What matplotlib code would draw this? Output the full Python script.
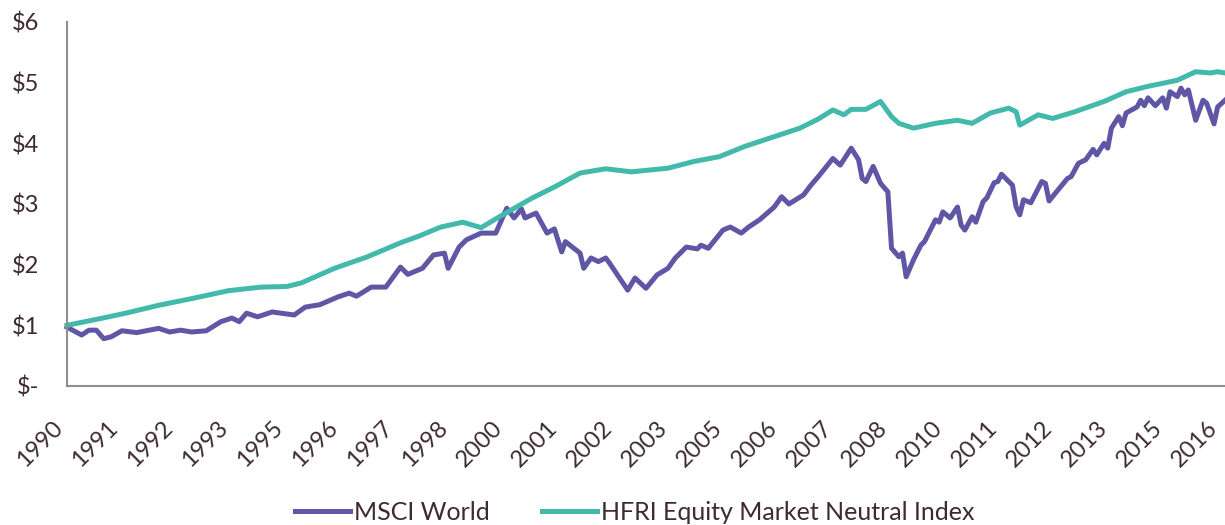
import matplotlib
matplotlib.use("Agg")
import matplotlib.pyplot as plt

# months counted from Jan 1990, values = growth of $1
msci_months = [0, 4, 6, 8, 10, 12, 15, 19, 25, 28, 31, 34, 38, 42, 45, 47, 49, 52,
               56, 62, 65, 69, 74, 77, 79, 83, 87, 91, 93, 97, 100, 103, 104, 107,
               109, 113, 117, 120, 122, 124, 125, 128, 131, 133, 135, 136, 140, 141,
               143, 145, 147, 148, 151, 153, 155, 158, 161, 164, 166, 169, 172, 173,
               175, 179, 181, 184, 186, 189, 193, 195, 197, 201, 203, 205, 209, 211,
               214, 216, 217, 218, 220, 222, 224, 225, 227, 228, 229, 231, 233, 234,
               237, 238, 239, 241, 243, 244, 245, 247, 248, 250, 251, 253, 254, 255,
               258, 259, 260, 261, 263, 266, 267, 268, 270, 273, 274, 276, 278, 280,
               281, 283, 284, 285, 287, 288, 289, 292, 293, 294, 295, 297, 299, 300,
               301, 303, 304, 305, 306, 308, 310, 311, 313, 314, 316]
msci_values = [0.97, 0.84, 0.92, 0.92, 0.78, 0.81, 0.91, 0.88, 0.95, 0.89, 0.92, 0.89,
               0.91, 1.06, 1.12, 1.06, 1.20, 1.14, 1.22, 1.17, 1.30, 1.34, 1.47, 1.53,
               1.48, 1.63, 1.63, 1.96, 1.84, 1.94, 2.16, 2.19, 1.94, 2.29, 2.41, 2.52,
               2.52, 2.93, 2.77, 2.92, 2.77, 2.85, 2.52, 2.59, 2.21, 2.38, 2.19, 1.94,
               2.11, 2.05, 2.11, 2.03, 1.76, 1.58, 1.78, 1.61, 1.83, 1.94, 2.11, 2.29,
               2.26, 2.32, 2.27, 2.57, 2.62, 2.52, 2.62, 2.74, 2.95, 3.12, 3.00, 3.15,
               3.31, 3.45, 3.75, 3.64, 3.92, 3.73, 3.42, 3.37, 3.62, 3.34, 3.20, 2.27,
               2.13, 2.19, 1.80, 2.08, 2.32, 2.38, 2.74, 2.70, 2.87, 2.77, 2.95, 2.65,
               2.57, 2.79, 2.70, 3.04, 3.10, 3.35, 3.37, 3.49, 3.31, 2.95, 2.82, 3.07,
               3.02, 3.37, 3.34, 3.05, 3.20, 3.42, 3.45, 3.67, 3.73, 3.90, 3.81, 4.00,
               3.92, 4.25, 4.44, 4.29, 4.50, 4.60, 4.71, 4.62, 4.75, 4.62, 4.75, 4.58,
               4.85, 4.77, 4.91, 4.80, 4.88, 4.38, 4.71, 4.66, 4.32, 4.60, 4.71]

hfri_months = [0, 9, 16, 25, 34, 44, 53, 60, 64, 73, 82, 91, 96, 102, 108, 113, 118,
               127, 133, 140, 147, 154, 164, 171, 178, 185, 193, 200, 205, 209, 212,
               214, 218, 222, 225, 227, 231, 237, 243, 247, 252, 257, 259, 260, 265,
               269, 275, 283, 289, 295, 303, 308, 312, 314, 316]
hfri_values = [1.00, 1.11, 1.20, 1.33, 1.44, 1.57, 1.63, 1.64, 1.70, 1.94, 2.13, 2.36,
               2.47, 2.62, 2.70, 2.61, 2.79, 3.10, 3.28, 3.51, 3.58, 3.53, 3.59, 3.70,
               3.78, 3.95, 4.11, 4.25, 4.40, 4.55, 4.47, 4.56, 4.56, 4.69, 4.44, 4.33,
               4.25, 4.33, 4.38, 4.33, 4.50, 4.58, 4.52, 4.30, 4.47, 4.41, 4.52, 4.69,
               4.85, 4.94, 5.04, 5.18, 5.16, 5.18, 5.16]

year_labels = ["1990", "1991", "1992", "1993", "1995", "1996", "1997", "1998",
               "2000", "2001", "2002", "2003", "2005", "2006", "2007", "2008",
               "2010", "2011", "2012", "2013", "2015", "2016"]
y_ticks = [0, 1, 2, 3, 4, 5, 6]
y_labels = ["$-", "$1", "$2", "$3", "$4", "$5", "$6"]

TEXT = "#3d2b2f"
PURPLE = "#5f57a6"
TEAL = "#42b9ab"

plt.rcParams["font.family"] = ["Lato", "DejaVu Sans"]

fig = plt.figure(figsize=(12.25, 5.25), dpi=100)
ax = fig.add_axes([0.0547, 0.2648, 0.9453, 0.6933])

ax.plot(msci_months, msci_values, color=PURPLE, lw=3.6, label="MSCI World",
        solid_joinstyle="round", clip_on=False)
ax.plot(hfri_months, hfri_values, color=TEAL, lw=3.6,
        label="HFRI Equity Market Neutral Index", solid_joinstyle="round", clip_on=False)

ax.set_xlim(0, 316)
ax.set_ylim(0, 6)
ax.set_xticks(range(0, 15 * len(year_labels), 15))
ax.set_xticklabels(year_labels, rotation=45, ha="right", va="bottom",
                   rotation_mode="anchor", fontsize=17, color=TEXT)
ax.set_yticks(y_ticks)
ax.set_yticklabels(y_labels, fontsize=17, color=TEXT)
ax.tick_params(axis="both", length=0)
ax.tick_params(axis="x", pad=33)
ax.tick_params(axis="y", pad=20)

for side in ("top", "right"):
    ax.spines[side].set_visible(False)
for side in ("left", "bottom"):
    ax.spines[side].set_color("#8f8f8f")
    ax.spines[side].set_linewidth(1.5)

fig.legend(loc="center", bbox_to_anchor=(0.518, 0.024), ncol=2, frameon=False,
           fontsize=18, handlelength=2.2, columnspacing=2.1, labelcolor=TEXT,
           handletextpad=0.15)

fig.savefig("out.png", dpi=100)
